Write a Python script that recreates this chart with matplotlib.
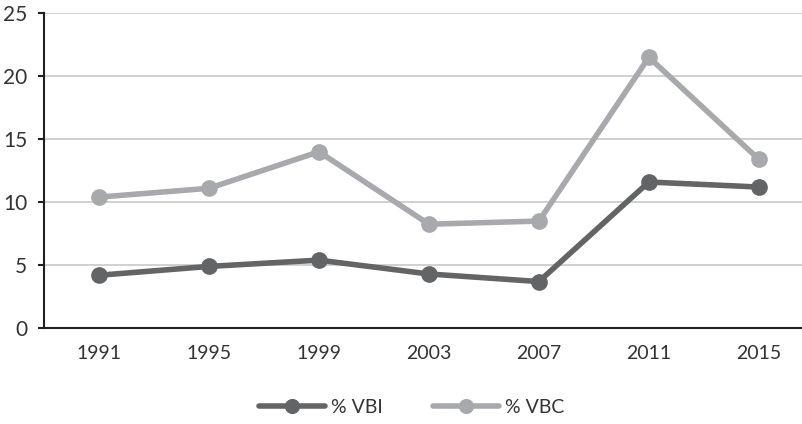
import matplotlib.pyplot as plt

years = ["1991", "1995", "1999", "2003", "2007", "2011", "2015"]
vbi = [4.2, 4.9, 5.4, 4.3, 3.7, 11.6, 11.2]
vbc = [10.4, 11.1, 14.0, 8.25, 8.5, 21.5, 13.4]

dark = "#636466"
light = "#a7a9ac"
ink = "#231f20"

plt.rcParams['font.family'] = ['Lato', 'DejaVu Sans']

fig = plt.figure(figsize=(8.03, 4.24), dpi=100)
ax = fig.add_axes([0.0548, 0.226, 0.945, 0.743])

x = list(range(len(years)))
ax.plot(x, vbi, color=dark, lw=4, marker="o", ms=11, label="% VBI", solid_capstyle="round")
ax.plot(x, vbc, color=light, lw=4, marker="o", ms=11, label="% VBC", solid_capstyle="round")

ax.set_xlim(-0.5, 6.4)
ax.set_ylim(0, 25)
ax.set_yticks([0, 5, 10, 15, 20, 25])
ax.set_xticks(x)
ax.set_xticklabels(years)
ax.yaxis.grid(True, color="#c8c8c8", lw=1.2)
ax.set_axisbelow(True)
for s in ["top", "right"]:
    ax.spines[s].set_visible(False)
for s in ["left", "bottom"]:
    ax.spines[s].set_color(ink)
    ax.spines[s].set_linewidth(1.5)
ax.tick_params(axis="y", length=4, width=1.5, color=ink, labelsize=15, labelcolor="#333333", pad=8)
ax.tick_params(axis="x", length=0, labelsize=14, labelcolor="#333333", pad=12)

ax.legend(loc="upper center", bbox_to_anchor=(0.484, -0.17), ncol=2, frameon=False,
          fontsize=14, handlelength=3.4, columnspacing=2.6, handletextpad=0.3,
          labelcolor="#333333", markerscale=0.9)

fig.savefig("out.png", dpi=100)
